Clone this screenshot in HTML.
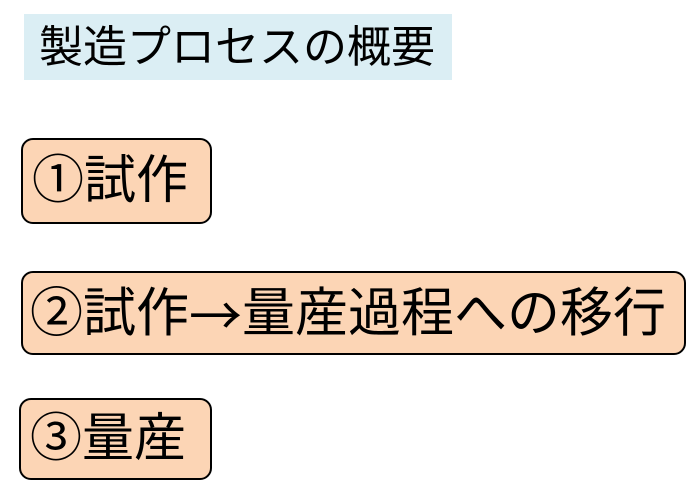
<!DOCTYPE html>
<html><head><meta charset="utf-8"><style>
html,body{margin:0;padding:0;background:#fff;width:696px;height:498px;overflow:hidden;position:relative}
div{position:absolute;box-sizing:border-box;font-family:"Liberation Sans","Noto Sans CJK JP",sans-serif;color:#000;white-space:nowrap;line-height:1;font-weight:normal}
.t{left:24px;top:14px;width:428px;height:66px;background:#dbeef4;font-size:44px;padding:12px 0 0 15px}
.b{background:#fcd5b5;border:2.5px solid #000;border-radius:12px;font-size:52px;padding-left:9px;display:flex;align-items:center}
.a{font-family:"Noto Sans CJK JP",sans-serif}
</style></head><body>
<div class="t">製造プロセスの概要</div>
<div class="b" style="left:21px;top:138px;width:191px;height:86px">①試作</div>
<div class="b" style="left:21px;top:271px;width:665px;height:84px;font-size:53px;padding-left:7px">②試作<span class="a">→</span>量産過程への移行</div>
<div class="b" style="left:19px;top:398px;width:193px;height:82px">③量産</div>
</body></html>
